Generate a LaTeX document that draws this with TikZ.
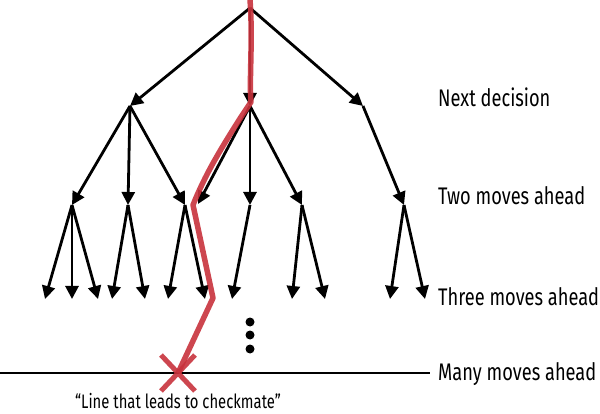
\documentclass[tikz,border=0pt]{standalone}
\usepackage{fontspec}
\setmainfont{Fira Sans}[FakeStretch=0.76]
\definecolor{matered}{RGB}{200,50,60}
\usetikzlibrary{arrows.meta,positioning}
\tikzset{
  move/.style={-{Triangle[length=13pt,width=13pt]},line width=2.8pt,black},
  levellabel/.style={anchor=west,inner sep=0pt,font=\fontsize{24}{26}\selectfont},
}

\begin{document}
\begin{tikzpicture}[x=1pt,y=-1pt]
  \useasboundingbox (0,0) rectangle (600,414);
  % tree points
  \coordinate (root) at (250,8);
  \coordinate (n1l) at (130,106);
  \coordinate (n1m) at (250,106);
  \coordinate (n1r) at (363,106);
  \coordinate (n2a) at (72,205);
  \coordinate (n2b) at (128,205);
  \coordinate (n2c) at (185,205);
  \coordinate (n2d) at (198,204);
  \coordinate (n2e) at (250,205);
  \coordinate (n2f) at (302,205);
  \coordinate (n2g) at (404,205);
  \foreach \n/\x in {a1/45,a2/72,a3/98,b1/112,b2/145,c1/168,c2/205,e1/232,f1/292,f2/325,g1/390,g2/425}
    \coordinate (n3\n) at (\x,299);
  % moves
  \foreach \t in {n1l,n1m,n1r} \draw[move] (root) -- (\t);
  \foreach \t in {n2a,n2b,n2c} \draw[move] (n1l) -- (\t);
  \foreach \t in {n2d,n2e,n2f} \draw[move] (n1m) -- (\t);
  \draw[move] (n1r) -- (n2g);
  \foreach \t in {a1,a2,a3} \draw[move] (n2a) -- (n3\t);
  \foreach \t in {b1,b2} \draw[move] (n2b) -- (n3\t);
  \foreach \t in {c1,c2} \draw[move] (n2c) -- (n3\t);
  \draw[move] (n2e) -- (n3e1);
  \foreach \t in {f1,f2} \draw[move] (n2f) -- (n3\t);
  \foreach \t in {g1,g2} \draw[move] (n2g) -- (n3\t);
  % more moves
  \foreach \y in {322,335,349} \fill (250,\y) circle (4.5);
  \coordinate (far) at (0,373);
  \coordinate (mate) at (178,373);
  \draw[line width=2pt] (far) -- (430,373);
  % winning line
  \draw[matered,opacity=0.9,line width=5.5pt,line join=round]
    (250,0) .. controls (253,40) and (249,80) .. (251,102) -- (241,117)
    .. controls (220,150) and (205,175) .. (193,205) -- (213,298) -- (mate);
  \draw[matered,opacity=0.9,line width=5pt] (161,355) -- (195,391) (195,355) -- (161,391);
  % labels
  \node[levellabel] (next) at (438,97) {Next decision};
  \node[levellabel] (two) at (438,196) {Two moves ahead};
  \node[levellabel] (three) at (438,297) {Three moves ahead};
  \node[levellabel] (many) at (438,374) {Many moves ahead};
  \node[font=\fontsize{19.5}{21}\selectfont] (mateline) at (178,401) {“Line that leads to checkmate”};
\end{tikzpicture}
\end{document}
